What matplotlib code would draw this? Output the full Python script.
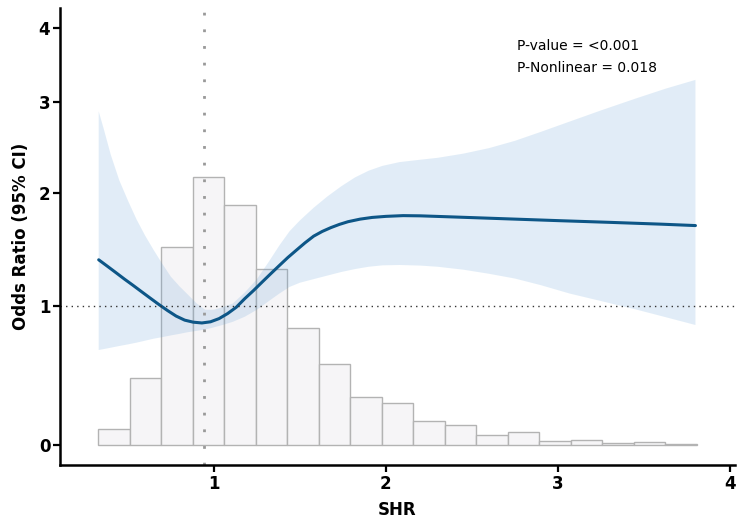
import numpy as np
import matplotlib
matplotlib.use("Agg")
import matplotlib.pyplot as plt

# ---- data ----
hist_counts = [16, 67, 198, 268, 240, 176, 117, 81, 48, 42, 24, 20, 10, 13, 4, 5, 2, 3, 1]
hist_start = 0.327
hist_end = 3.808

curve_x = [0.33, 0.38, 0.43, 0.48, 0.53, 0.58, 0.63, 0.68, 0.73, 0.78, 0.83, 0.88, 0.93,
           0.98, 1.03, 1.08, 1.13, 1.18, 1.23, 1.28, 1.33, 1.38, 1.43, 1.48, 1.53, 1.58,
           1.63, 1.68, 1.73, 1.78, 1.85, 1.92, 2.00, 2.10, 2.20, 2.40, 2.70, 3.00, 3.30,
           3.60, 3.80]
curve_or = [1.385, 1.330, 1.275, 1.220, 1.168, 1.115, 1.063, 1.012, 0.964, 0.920, 0.888,
            0.872, 0.866, 0.875, 0.900, 0.940, 0.990, 1.060, 1.125, 1.195, 1.265, 1.335,
            1.405, 1.470, 1.535, 1.595, 1.638, 1.673, 1.703, 1.728, 1.752, 1.768, 1.778,
            1.785, 1.783, 1.772, 1.755, 1.738, 1.722, 1.705, 1.692]

ci_x = [0.33, 0.36, 0.40, 0.45, 0.50, 0.55, 0.60, 0.65, 0.70, 0.75, 0.80, 0.85, 0.90, 0.95,
        1.00, 1.05, 1.11, 1.18, 1.25, 1.32, 1.38, 1.44, 1.50, 1.58, 1.66, 1.74, 1.82, 1.90,
        1.98, 2.08, 2.20, 2.30, 2.45, 2.60, 2.75, 2.90, 3.07, 3.25, 3.46, 3.63, 3.80]
ci_hi = [2.89, 2.68, 2.40, 2.13, 1.93, 1.75, 1.60, 1.47, 1.35, 1.24, 1.16, 1.09, 1.02, 0.97,
         0.97, 0.99, 1.02, 1.11, 1.22, 1.37, 1.51, 1.64, 1.74, 1.86, 1.97, 2.07, 2.16, 2.23,
         2.28, 2.32, 2.345, 2.365, 2.41, 2.47, 2.55, 2.65, 2.77, 2.90, 3.05, 3.17, 3.28]
ci_lo = [0.660, 0.667, 0.677, 0.690, 0.702, 0.715, 0.730, 0.745, 0.757, 0.770, 0.782, 0.795,
         0.805, 0.815, 0.832, 0.850, 0.875, 0.915, 0.970, 1.040, 1.100, 1.155, 1.190, 1.220,
         1.250, 1.280, 1.305, 1.325, 1.337, 1.340, 1.335, 1.325, 1.300, 1.265, 1.225, 1.170,
         1.100, 1.040, 0.970, 0.910, 0.850]

ref_x = 0.94
x_ticks = [1, 2, 3, 4]
y_ticks = [0, 1, 2, 3, 4]
p_value_text = "P-value = <0.001"
p_nonlin_text = "P-Nonlinear = 0.018"

# ---- figure ----
fig = plt.figure(figsize=(7.44, 5.32), dpi=100)
rect = [60 / 744, 67 / 532, 675 / 744, 457 / 532]

ax_h = fig.add_axes(rect, zorder=1)
ax = fig.add_axes(rect, zorder=2)
ax.patch.set_visible(False)

xlim = (0.105, 4.03)

# histogram (background axis)
edges = np.linspace(hist_start, hist_end, len(hist_counts) + 1)
ax_h.bar(edges[:-1], hist_counts, width=np.diff(edges), align='edge',
         facecolor='#f6f5f7', edgecolor='#b3b3b3', linewidth=1.0)
ax_h.set_xlim(*xlim)
ax_h.set_ylim(-20, 437)
ax_h.axis('off')

# odds ratio axis with compressed scale
q = 0.81
def fwd(y):
    y = np.asarray(y, dtype=float)
    return 1.0 - q ** y
def inv(f):
    f = np.asarray(f, dtype=float)
    return np.log(np.clip(1.0 - f, 1e-9, None)) / np.log(q)
ax.set_yscale('function', functions=(fwd, inv))

ax.fill_between(ci_x, ci_lo, ci_hi, facecolor='#5b9bd5', alpha=0.18, linewidth=0)
ax.plot(curve_x, curve_or, color='#0d5687', linewidth=2.2, solid_capstyle='round',
        solid_joinstyle='round')
ax.axhline(1, color='#333333', linestyle=(0, (1, 3)), linewidth=1.0)
ax.axvline(ref_x, color='#999999', linestyle=(0, (1, 5)), linewidth=2.0)

ax.set_xlim(*xlim)
ax.set_ylim(-0.128, 4.316)
ax.set_xticks(x_ticks)
ax.set_yticks(y_ticks)
ax.set_xticklabels([str(t) for t in x_ticks], fontweight='bold', fontsize=12)
ax.set_yticklabels([str(t) for t in y_ticks], fontweight='bold', fontsize=12)
ax.minorticks_off()
ax.tick_params(axis='both', length=5, width=1.6, color='black', pad=2)

for s in ['top', 'right']:
    ax.spines[s].set_visible(False)
for s in ['left', 'bottom']:
    ax.spines[s].set_linewidth(1.8)

ax.set_xlabel('SHR', fontweight='bold', fontsize=12, labelpad=6)
ax.set_ylabel('Odds Ratio (95% CI)', fontweight='bold', fontsize=12, labelpad=6)

ax.text(0.677, 0.902, p_value_text, transform=ax.transAxes, fontsize=10, va='bottom', ha='left')
ax.text(0.677, 0.854, p_nonlin_text, transform=ax.transAxes, fontsize=10, va='bottom', ha='left')

fig.savefig('out.png', dpi=100)
